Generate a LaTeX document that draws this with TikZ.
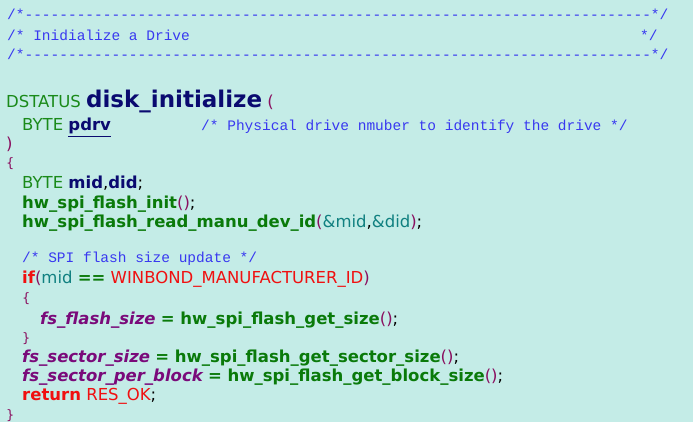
\documentclass[tikz,border=0pt]{standalone}
\usepackage{fontspec}
\setmainfont{DejaVu Sans}
\newfontfamily\cmono{Liberation Mono}
\definecolor{bg}{HTML}{C4ECE7}
\definecolor{cmt}{HTML}{3838F0}
\definecolor{kw}{HTML}{1A8A1A}
\definecolor{fn}{HTML}{0A7A0A}
\definecolor{nv}{HTML}{0A0A70}
\definecolor{pp}{HTML}{8A1060}
\definecolor{vr}{HTML}{7A0A7A}
\definecolor{rd}{HTML}{F01010}
\definecolor{tl}{HTML}{108080}
\begin{document}
\begin{tikzpicture}[x=1pt,y=-1pt,
  ln/.style={anchor=base west,inner sep=0pt,font=\fontsize{16.5}{20}\selectfont},
  cmtx/.style={anchor=base west,inner sep=0pt,text=cmt,font=\cmono\fontsize{14.5}{16}\selectfont}]
\fill[bg] (0,0) rectangle (693,422);
\useasboundingbox (0,0) rectangle (693,422);
\node[cmtx] (c1) at (7,20) {/*------------------------------------------------------------------------*/};
\node[cmtx] (c2) at (7,41) {/* Inidialize a Drive};
\node[cmtx] (c2e) at (640,41) {*/};
\node[cmtx] (c3) at (7,60) {/*------------------------------------------------------------------------*/};
\node[ln] (l1) at (6,108) {\textcolor{kw}{DSTATUS} \textcolor{nv}{\fontsize{23}{26}\selectfont\bfseries disk\_initialize} \textcolor{pp}{(}};
\node[ln] (l2) at (22,131) {\textcolor{kw}{BYTE} \textcolor{nv}{\bfseries\underline{pdrv}}};
\node[cmtx] (l2c) at (201,131) {/* Physical drive nmuber to identify the drive */};
\node[ln,text=pp] (l3) at (6,150) {)};
\node[ln,text=pp,font=\fontsize{13}{15}\selectfont] (l4) at (6,168) {\{};
\node[ln] (l5) at (22,189) {\textcolor{kw}{BYTE} \textcolor{nv}{\bfseries mid},\textcolor{nv}{\bfseries did};};
\node[ln] (l6) at (22,208) {\textcolor{fn}{\bfseries hw\_spi\_flash\_init}\textcolor{pp}{()};};
\node[ln] (l7) at (22,227) {\textcolor{fn}{\bfseries hw\_spi\_flash\_read\_manu\_dev\_id}\textcolor{pp}{(}\textcolor{tl}{\&mid},\textcolor{tl}{\&did}\textcolor{pp}{)};};
\node[cmtx] (l8) at (22,262) {/* SPI flash size update */};
\node[ln] (l9) at (22,283) {\textcolor{rd}{\bfseries if}\textcolor{pp}{(}\textcolor{tl}{mid} \textcolor{fn}{\bfseries ==} \textcolor{rd}{WINBOND\_MANUFACTURER\_ID}\textcolor{pp}{)}};
\node[ln,text=pp,font=\fontsize{13}{15}\selectfont] (l10) at (22,302) {\{};
\node[ln] (l11) at (40,324) {\textcolor{vr}{\bfseries\itshape fs\_flash\_size} \textcolor{fn}{\bfseries = hw\_spi\_flash\_get\_size}\textcolor{pp}{()};};
\node[ln,text=pp,font=\fontsize{13}{15}\selectfont] (l12) at (22,342) {\}};
\node[ln] (l13) at (22,362) {\textcolor{vr}{\bfseries\itshape fs\_sector\_size} \textcolor{fn}{\bfseries = hw\_spi\_flash\_get\_sector\_size}\textcolor{pp}{()};};
\node[ln] (l14) at (22,381) {\textcolor{vr}{\bfseries\itshape fs\_sector\_per\_block} \textcolor{fn}{\bfseries = hw\_spi\_flash\_get\_block\_size}\textcolor{pp}{()};};
\node[ln] (l15) at (22,400) {\textcolor{rd}{\bfseries return} \textcolor{rd}{RES\_OK};};
\node[ln,text=pp,font=\fontsize{13}{15}\selectfont] (l16) at (6,419) {\}};
\end{tikzpicture}
\end{document}
